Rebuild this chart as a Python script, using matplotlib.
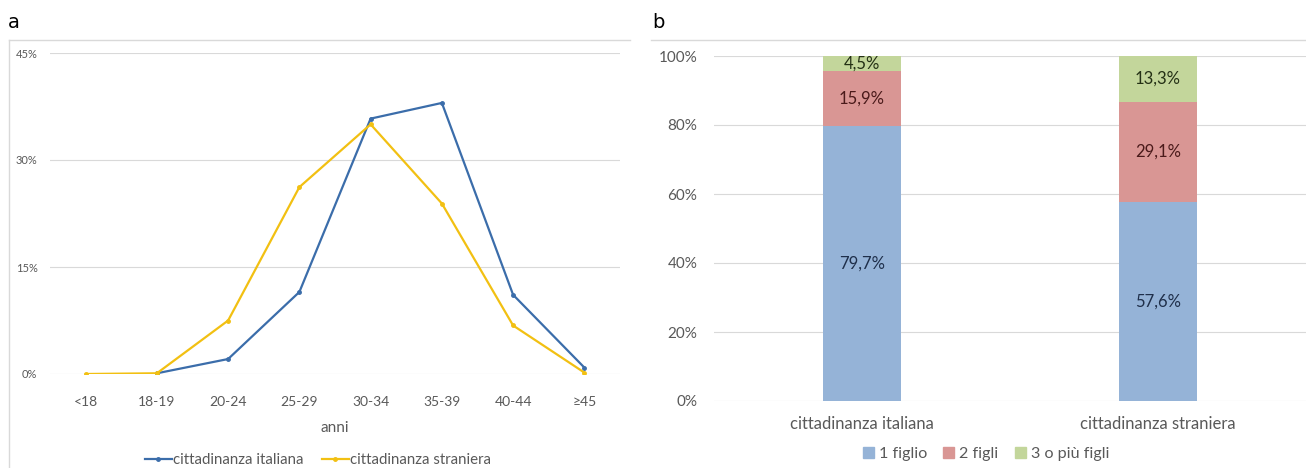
import matplotlib.pyplot as plt
import numpy as np
from matplotlib.lines import Line2D
from matplotlib.patches import Rectangle

plt.rcParams["font.family"] = ["Lato", "DejaVu Sans"]

# panel a: share of mothers by age class
age_classes = ["<18", "18-19", "20-24", "25-29", "30-34", "35-39", "40-44", "≥45"]
italiana = [0.0, 0.1, 2.1, 11.5, 35.8, 38.0, 11.1, 0.9]
straniera = [0.0, 0.1, 7.5, 26.2, 35.0, 23.9, 6.8, 0.2]
series_names = ["cittadinanza italiana", "cittadinanza straniera"]

# panel b: number of children by citizenship
groups = ["cittadinanza italiana", "cittadinanza straniera"]
one_child = [79.7, 57.6]
two_children = [15.9, 29.1]
three_plus = [4.5, 13.3]
stack_names = ["1 figlio", "2 figli", "3 o più figli"]

W, H = 1306, 468
fig = plt.figure(figsize=(W / 100, H / 100), dpi=100)

grid_col = "#D9D9D9"
tick_col = "#595959"


def fx(px):
    return px / W


def fy(px):
    return 1 - px / H


# ---- panel a ----
ax1 = fig.add_axes([fx(50), fy(374), fx(570), (374 - 53) / H])
x = np.arange(len(age_classes))
ax1.plot(x[1:], italiana[1:], color="#3B6DAA", lw=1.6, marker="o", ms=2.5,
         label=series_names[0], zorder=3)
ax1.plot(x, straniera, color="#F2C012", lw=1.6, marker="o", ms=2.5,
         label=series_names[1], zorder=3)
ax1.set_xlim(-0.5, len(age_classes) - 0.5)
ax1.set_ylim(0, 45)
ax1.set_yticks([0, 15, 30, 45])
ax1.set_yticklabels(["0%", "15%", "30%", "45%"], fontsize=8, color=tick_col)
ax1.set_xticks(x)
ax1.set_xticklabels(age_classes, fontsize=10, color=tick_col)
ax1.tick_params(axis="y", length=0, pad=9)
ax1.tick_params(axis="x", length=0, pad=16)
ax1.grid(axis="y", color=grid_col, lw=0.8)
ax1.set_axisbelow(True)
for s in ax1.spines.values():
    s.set_visible(False)
ax1.set_xlabel("anni", fontsize=11, color=tick_col, labelpad=9)

handles = [Line2D([], [], color="#3B6DAA", lw=1.6, marker="o", ms=2.5),
           Line2D([], [], color="#F2C012", lw=1.6, marker="o", ms=2.5)]
fig.legend(handles, series_names, loc="center", bbox_to_anchor=(fx(318), fy(460)),
           ncol=2, frameon=False, fontsize=10.8, handlelength=1.8, handletextpad=0.1,
           columnspacing=1.2, labelcolor=tick_col)

# ---- panel b ----
ax2 = fig.add_axes([fx(714), fy(401), fx(592), (401 - 56) / H])
xb = np.arange(len(groups))
colors = ["#95B3D7", "#D99694", "#C3D69B"]
label_cols = ["#1F2F4A", "#4A1A1A", "#243015"]
bottom = np.zeros(len(groups))
for vals, col, lc, name in zip([one_child, two_children, three_plus], colors,
                               label_cols, stack_names):
    vals = np.array(vals)
    ax2.bar(xb, vals, 0.265, bottom=bottom, color=col, label=name, zorder=2)
    for xi, b, v in zip(xb, bottom, vals):
        ax2.text(xi, b + v / 2, f"{v:.1f}%".replace(".", ","), ha="center",
                 va="center", fontsize=12, color=lc, zorder=3)
    bottom = bottom + vals
ax2.set_xlim(-0.5, len(groups) - 0.5)
ax2.set_ylim(0, 100)
ax2.set_yticks(np.arange(0, 101, 20))
ax2.set_yticklabels([f"{v}%" for v in range(0, 101, 20)], fontsize=11, color=tick_col)
ax2.set_xticks(xb)
ax2.set_xticklabels(groups, fontsize=12, color=tick_col)
ax2.tick_params(axis="y", length=0, pad=12)
ax2.tick_params(axis="x", length=0, pad=11)
ax2.grid(axis="y", color=grid_col, lw=0.8)
ax2.set_axisbelow(True)
for s in ax2.spines.values():
    s.set_visible(False)

fig.legend([Rectangle((0, 0), 1, 1, color=c) for c in colors], stack_names,
           loc="center", bbox_to_anchor=(fx(986), fy(454)), ncol=3, frameon=False,
           fontsize=11.6, handlelength=0.7, handleheight=0.7, handletextpad=0.3,
           columnspacing=1.0, labelcolor=tick_col)

# panel frames and letters
border = "#D9D9D9"
fig.add_artist(Line2D([fx(9), fx(9)], [fy(40), 0], color=border, lw=1))
fig.add_artist(Line2D([fx(9), fx(630)], [fy(40), fy(40)], color=border, lw=1))
fig.add_artist(Line2D([fx(651), 1], [fy(40), fy(40)], color=border, lw=1))
fig.text(fx(8), fy(22), "a", fontsize=14, va="center", ha="left", family="DejaVu Sans")
fig.text(fx(652), fy(22), "b", fontsize=14, va="center", ha="left", family="DejaVu Sans")

fig.savefig("out.png", dpi=100)
